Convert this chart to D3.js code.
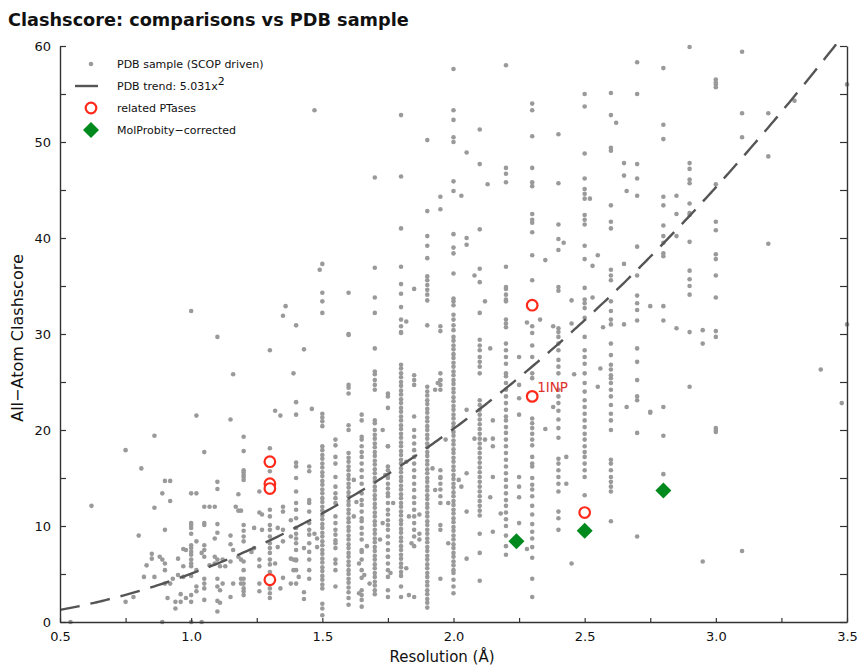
<!DOCTYPE html>
<html>
<head>
<meta charset="utf-8">
<script src="https://cdn.jsdelivr.net/npm/d3@7"></script>
<style>
  html, body { margin: 0; padding: 0; background: #fff; }
  svg { display: block; }
  text { font-family: "DejaVu Sans", Verdana, sans-serif; fill: #111; }
</style>
</head>
<body>
<div id="chart"></div>
<script>
const chartTitle = "Clashscore: comparisons vs PDB sample";
const xLabel = "Resolution (Å)";
const yLabel = "All\u2212Atom Clashscore";
const xTickValues = [0.5, 1.0, 1.5, 2.0, 2.5, 3.0, 3.5];
const yTickValues = [0, 10, 20, 30, 40, 50, 60];
const trendCoef = 5.031;

// PDB sample: clashscores grouped by reported resolution (Å)
const sampleColumns = [
  [1.3, [28.3,18.1,15.7,11.7,11.0,10.1,9.6,8.9,8.2,7.7,7.2,6.5,6.0,5.2,3.5,3.0,2.5]],
  [1.4, [30.9,22.9,21.6,16.6,16.2,15.0,13.6,12.4,11.7,10.8,9.8,9.2,8.7,8.2,7.5,6.5,5.4,4.0]],
  [1.45, [16.2,15.7,12.7,12.4,11.5,10.3,9.6,9.1,8.2,7.3,6.5,5.4,4.5]],
  [1.5, [37.3,34.3,33.4,32.2,21.7,21.3,20.9,20.4,18.3,17.9,17.4,17.0,16.5,16.1,15.6,15.2,14.7,14.3,13.8,13.4,12.9,12.5,12.0,11.6,11.1,10.7,10.2,9.8,9.3,8.9,8.4,8.0,7.5,7.1,6.6,6.2,5.7,5.3,4.8,4.4,3.9,3.5,1.9,1.4,0.7]],
  [1.55, [19.0,18.4,17.2,16.5,15.1,14.1,13.4,12.9,12.4,11.0,10.3,9.6,9.1,8.5,8.2,7.7,6.5,6.1,5.4,3.7]],
  [1.6, [34.3,30.0,29.9,24.7,24.4,23.8,20.5,20.0,17.6,17.1,16.7,16.2,15.8,15.3,14.9,14.4,14.0,13.5,13.1,12.6,12.2,11.7,11.3,10.8,10.4,9.9,9.5,9.0,8.6,8.1,7.7,7.2,6.8,6.3,5.9,5.4,5.0,4.5,4.1,3.6,3.1,2.5,1.8]],
  [1.65, [21.6,21.0,19.3,19.0,18.3,17.7,17.2,16.5,15.8,15.1,14.4,13.4,12.7,12.2,11.5,10.8,10.5,9.8,9.2,8.6,7.5,7.3,6.5,5.4,4.6,3.3,2.8,2.3,1.6]],
  [1.7, [46.3,36.9,33.8,32.2,28.5,26.1,25.8,25.2,24.7,24.2,21.0,20.7,20.0,19.5,19.1,18.6,18.2,17.7,17.3,16.8,16.4,15.9,15.5,15.0,14.6,14.1,13.7,13.2,12.8,12.3,11.9,11.4,11.0,10.5,10.1,9.6,9.2,8.7,8.3,7.8,7.4,6.9,6.5,6.0,5.6,5.1,4.7,4.2,3.8,3.3,2.9]],
  [1.75, [23.8,23.5,22.3,18.3,16.2,15.8,15.3,15.0,14.4,13.9,13.4,13.1,12.4,11.7,11.2,10.6,10.1,9.6,8.9,8.2,7.5,6.8,6.1,5.4,4.7,3.3,2.6]],
  [1.8, [52.8,46.4,41.0,37.0,35.2,34.2,32.8,31.5,30.8,30.2,30.1,26.8,26.4,25.9,25.5,25.0,24.6,24.1,23.7,23.2,22.8,22.3,21.9,21.4,21.0,20.5,20.1,19.6,19.2,18.7,18.3,17.8,17.4,16.9,16.5,16.0,15.6,15.1,14.7,14.2,13.8,13.3,12.9,12.4,12.0,11.5,11.1,10.6,10.2,9.7,9.3,8.8,8.4,7.9,7.5,7.0,6.6,6.1,5.7,5.2,4.8,3.7,2.6]],
  [1.85, [34.7,25.7,25.2,24.7,21.4,20.0,19.3,18.6,17.9,17.2,16.5,15.8,15.1,14.4,13.75,13.0,12.4,11.7,11.0,10.3,9.6,8.9,7.9,2.6]],
  [1.9, [50.2,42.8,40.2,39.2,37.9,36.0,35.6,35.1,34.6,34.1,33.5,30.9,24.5,24.0,23.6,23.1,22.7,22.2,21.8,21.3,20.9,20.4,20.0,19.5,19.1,18.6,18.2,17.7,17.3,16.8,16.4,15.9,15.5,15.0,14.6,14.1,13.7,13.2,12.8,12.3,11.9,11.4,11.0,10.5,10.1,9.6,9.2,8.7,8.3,7.8,7.4,6.9,6.5,6.0,5.6,5.1,4.7,4.2,3.8,3.3,2.9,2.4,2.0,1.5]],
  [1.95, [44.3,43.0,30.8,30.3,25.9,25.2,24.7,24.2,15.8,15.0,14.4,13.8,13.1,12.4,10.1,9.6]],
  [2.0, [57.6,53.3,52.3,50.5,50.0,45.9,44.9,40.4,39.0,38.4,36.3,33.7,33.4,33.0,32.0,31.5,30.9,30.4,29.7,29.3,28.8,28.4,27.9,27.5,27.0,26.6,26.1,25.7,25.2,24.8,24.3,23.9,23.4,23.0,22.5,22.1,21.6,21.2,20.7,20.3,19.8,19.4,18.9,18.5,18.0,17.6,17.1,16.7,16.2,15.8,15.3,14.9,14.4,14.0,13.5,13.1,12.6,12.2,11.7,11.3,10.8,10.4,9.9,9.5,9.0,8.6,8.1,7.7,7.2,6.8,6.3,5.9,5.4,5.1,4.4,3.7,3.0]],
  [2.05, [48.9,40.0,39.3,22.1,15.5,11.5,6.6]],
  [2.1, [51.3,47.7,40.9,36.8,35.4,32.2,29.4,28.8,28.3,27.6,27.1,26.6,25.9,23.1,22.6,22.1,21.6,21.1,20.6,20.1,19.6,19.1,18.6,18.1,17.6,17.1,16.6,16.1,15.6,15.1,14.6,14.1,13.6,13.1,12.6,12.1,11.6,11.1,9.2,7.2,4.3]],
  [2.2, [58.0,47.3,46.7,45.8,37.0,34.9,34.7,34.1,33.6,33.4,31.5,31.1,30.7,29.0,28.3,27.6,26.9,25.9,25.6,24.9,24.2,23.5,22.8,22.1,21.4,21.0,20.3,19.7,19.0,18.3,17.6,16.9,16.2,15.5,14.8,14.1,13.4,12.7,12.1,11.4,10.7,10.0,9.0,7.9,7.0]],
  [2.25, [27.6,24.7,23.3,21.6,15.1,14.1,13.0,10.3]],
  [2.3, [54.0,53.3,50.6,47.3,45.8,45.4,42.5,41.9,41.6,40.6,38.2,35.6,30.8,30.1,28.8,27.6,25.9,25.4,21.2,20.7,20.2,19.6,19.0,18.4,17.2,16.5,16.2,15.0,14.3,13.8,13.1,12.1,11.2,10.2,9.4,8.7,7.8,6.7,4.5,2.6]],
  [2.4, [50.8,45.7,41.4,39.9,38.75,34.9,34.5,30.6,30.2,29.7,29.0,28.3,27.3,26.6,25.9,24.2,23.5,22.8,22.0,21.1,20.2,19.2,17.0,16.5,15.8,15.1,14.4,13.6,11.5,10.8,9.6]],
  [2.5, [55.0,53.7,48.8,46.2,45.1,44.6,44.1,42.4,41.9,41.4,39.2,37.8,34.8,33.6,33.2,32.7,31.7,29.7,28.3,27.6,26.9,25.9,24.9,24.0,23.1,22.4,21.7,21.0,20.3,19.6,19.0,18.3,17.7,17.2,16.5,15.8,15.1,13.2]],
  [2.6, [55.1,52.8,49.4,49.1,43.4,41.7,41.0,36.7,36.1,35.6,33.4,32.4,31.5,31.0,29.0,27.8,26.8,26.3,25.7,25.4,24.9,24.2,23.5,22.6,21.7,21.0,20.0,16.9,16.5,15.8,15.1,14.6,14.1,13.6,10.5]],
  [2.7, [58.3,55.0,47.7,46.2,44.4,39.1,36.1,34.0,33.2,32.5,31.4,28.5,27.1,25.2,23.5,23.1,19.7,8.9]],
  [2.8, [57.7,51.8,50.3,44.3,43.4,41.3,40.2,39.5,38.4,38.1,32.9,31.4,22.4,19.4,15.4]],
  [2.9, [59.9,47.8,47.2,46.1,45.7,43.6,42.6,42.4,39.6,36.6,35.7,35.0,34.1,30.2,24.5]],
  [3.0, [56.5,56.2,56.0,55.7,45.6,41.7,40.8,38.3,37.8,36.1,33.8,30.3,29.7,20.2,20.0,19.8]],
  [3.1, [59.4,53.0,50.5,7.4]],
  [3.2, [53.0,48.5,39.4]]
];

// PDB sample entries at less common resolutions: [resolution, clashscore]
const sampleLoose = [
  [0.54,0],[0.62,12.1],[0.75,17.9],[0.75,2.1],[0.78,2.6],[0.80,9.0],[0.81,16.0],[0.82,4.7],[0.83,5.9],
  [0.85,7.1],[0.85,6.6],[0.86,19.4],[0.86,11.9],[0.86,4.7],[0.88,6.8],[0.89,13.4],[0.89,6.5],[0.89,0],
  [0.9,14.7],[0.9,9.6],[0.9,6.1],[0.9,5.4],[0.9,4.0],[0.91,2.5],[0.92,14.7],[0.92,12.6],[0.92,4.0],
  [0.93,4.5],[0.94,1.4],[0.94,2.1],[0.95,6.6],[0.95,4.9],[0.96,2.9],[0.96,2.1],[0.97,7.6],[0.97,5.8],
  [0.97,4.7],[0.98,7.5],[0.98,2.5],[1.0,32.4],[1.0,13.4],[1.0,10.3],[1.0,10.1],[1.0,9.8],[1.0,9.2],
  [1.0,8.0],[1.0,7.7],[1.0,7.3],[1.0,7.0],[1.0,6.5],[1.0,6.1],[1.0,5.8],[1.0,4.8],[1.0,2.8],[1.0,2.1],
  [1.0,0],[1.02,21.5],[1.02,13.4],[1.02,8.4],[1.02,5.4],[1.02,3.7],[1.02,3.2],[1.04,7.2],[1.04,0],
  [1.05,17.7],[1.05,12.0],[1.05,10.3],[1.05,10.1],[1.05,8.0],[1.05,7.5],[1.05,6.8],[1.05,4.5],[1.05,4.0],
  [1.05,3.5],[1.05,2.3],[1.07,12.0],[1.07,5.9],[1.09,12.0],[1.09,8.7],[1.09,6.1],[1.09,6.8],[1.1,29.7],
  [1.1,14.6],[1.1,13.85],[1.1,10.2],[1.1,9.3],[1.1,6.5],[1.1,4.5],[1.1,3.7],[1.1,2.2],[1.1,1.1],
  [1.11,5.8],[1.11,3.3],[1.11,2.0],[1.12,6.5],[1.12,4.0],[1.13,5.8],[1.15,21.1],[1.15,9.0],[1.15,8.1],
  [1.15,6.3],[1.15,2.6],[1.16,25.8],[1.16,7.5],[1.16,4.0],[1.17,12.0],[1.18,13.3],[1.18,11.6],[1.18,6.8],
  [1.19,11.6],[1.19,6.5],[1.19,4.5],[1.19,4.0],[1.2,19.3],[1.2,17.8],[1.2,15.8],[1.2,15.6],[1.2,15.3],
  [1.2,15.1],[1.2,14.8],[1.2,10.1],[1.2,9.5],[1.2,8.9],[1.2,8.4],[1.2,6.3],[1.2,5.4],[1.2,4.5],[1.2,4.0],
  [1.2,3.5],[1.2,3.2],[1.2,2.8],[1.23,7.3],[1.24,9.8],[1.24,7.7],[1.26,13.6],[1.26,11.4],[1.26,6.5],
  [1.26,5.8],[1.26,4.0],[1.26,3.2],[1.27,11.2],[1.27,9.6],[1.32,22.0],[1.32,6.1],[1.33,9.8],[1.33,7.8],
  [1.34,21.5],[1.34,3.5],[1.35,31.9],[1.35,12.0],[1.35,11.5],[1.35,9.6],[1.35,8.4],[1.35,4.6],
  [1.36,32.9],[1.38,10.6],[1.38,8.9],[1.38,6.6],[1.38,4.0],[1.39,25.9],[1.39,6.5],[1.39,5.4],[1.40,6.4],
  [1.41,4.7],[1.43,28.4],[1.43,7.7],[1.43,3.1],[1.43,2.4],[1.46,22.2],[1.47,53.3],[1.47,9.2],[1.48,8.7],
  [1.48,7.8],[1.49,36.7],[1.62,14.8],[1.62,11.0],[1.63,12.5],[1.64,6.1],[1.64,3.0],[1.66,4.9],[1.67,7.9],
  [1.68,4.0],[1.72,8.6],[1.73,20.0],[1.73,10.3],[1.74,15.3],[1.75,18.3],[1.75,6.8],[1.76,5.1],[1.77,12.4],
  [1.82,31.3],[1.82,16.7],[1.82,5.6],[1.83,11.0],[1.83,2.8],[1.84,8.2],[1.87,11.2],[1.87,9.2],[1.87,8.6],
  [1.92,16.0],[1.93,24.2],[1.93,13.75],[1.94,24.9],[1.95,25.2],[1.95,15.1],[1.95,4.5],[1.97,19.0],
  [1.98,12.4],[1.98,8.2],[2.02,14.8],[2.03,44.4],[2.03,14.1],[2.08,36.1],[2.08,19.1],[2.12,33.4],
  [2.12,19.0],[2.13,45.6],[2.14,28.5],[2.14,13.0],[2.15,21.0],[2.15,19.1],[2.15,18.3],[2.15,15.1],
  [2.15,9.4],[2.18,11.3],[2.28,31.2],[2.28,7.6],[2.33,31.5],[2.35,37.7],[2.35,20.1],[2.38,30.8],
  [2.38,22.4],[2.42,39.5],[2.43,17.2],[2.43,14.4],[2.45,33.5],[2.45,31.1],[2.45,6.1],[2.46,25.8],
  [2.52,44.1],[2.53,37.1],[2.53,33.8],[2.55,38.2],[2.55,24.5],[2.56,26.4],[2.57,30.7],[2.62,52.0],
  [2.65,47.8],[2.65,46.5],[2.65,37.3],[2.65,31.0],[2.66,44.9],[2.66,22.4],[2.75,32.9],[2.75,21.9],
  [2.75,21.8],[2.85,44.4],[2.85,42.5],[2.85,40.2],[2.85,30.6],[2.95,30.4],[2.95,29.0],[2.95,6.3],
  [3.3,54.3],[3.4,26.3],[3.48,22.8],[3.5,56.0],[3.5,31.0]
];

// Related PTases and the MolProbity-corrected structures
const ptaseRes = [1.3, 1.3, 1.3, 1.3, 2.3, 2.3, 2.5];
const ptaseScore = [16.7, 14.4, 13.9, 4.4, 33.0, 23.5, 11.4];
const ptaseNames = ["", "", "", "", "", "1INP", ""];
const correctedRes = [2.24, 2.5, 2.8];
const correctedScore = [8.4, 9.5, 13.7];

const legendLabels = ["PDB sample (SCOP driven)", "PDB trend: 5.031x", "related PTases", "MolProbity\u2212corrected"];

const W = 858, H = 666;
const margin = {left: 60, right: 11, top: 46, bottom: 44};
const pw = W - margin.left - margin.right;
const ph = H - margin.top - margin.bottom;

const colGray = "#9a9a9a", colTrend = "#555555", colRed = "#ff2a1a", colGreen = "#008a1e", colAxis = "#333333";

const svg = d3.select("#chart").append("svg").attr("width", W).attr("height", H);

const x = d3.scaleLinear().domain([0.5, 3.5]).range([0, pw]);
const y = d3.scaleLinear().domain([0, 60]).range([ph, 0]);

svg.append("text").attr("x", 8).attr("y", 26)
  .attr("font-size", 17.7).attr("font-weight", "bold").attr("fill", "#000")
  .text(chartTitle);

svg.append("defs").append("clipPath").attr("id", "plotclip")
  .append("rect").attr("x", 0).attr("y", -2).attr("width", pw).attr("height", ph + 4);

const g = svg.append("g").attr("transform", `translate(${margin.left},${margin.top})`);

// sample points
const samplePts = [];
sampleColumns.forEach(([r, vals]) => vals.forEach(v => samplePts.push([r, v])));
sampleLoose.forEach(p => samplePts.push(p));

g.append("g").selectAll("circle").data(samplePts).join("circle")
  .attr("cx", d => x(d[0])).attr("cy", d => y(d[1])).attr("r", 2.3)
  .attr("fill", colGray);

// quadratic trend
const trendX = d3.range(0.5, 3.5001, 0.01);
const trendLine = d3.line().x(d => x(d)).y(d => y(trendCoef * d * d));
g.append("path").datum(trendX).attr("d", trendLine)
  .attr("clip-path", "url(#plotclip)")
  .attr("fill", "none").attr("stroke", colTrend).attr("stroke-width", 2.4)
  .attr("stroke-dasharray", "20,11");

// related PTases
const ptase = ptaseRes.map((r, i) => ({r, s: ptaseScore[i], name: ptaseNames[i]}));
g.append("g").selectAll("circle").data(ptase).join("circle")
  .attr("cx", d => x(d.r)).attr("cy", d => y(d.s)).attr("r", 5.3)
  .attr("fill", "#fff").attr("stroke", colRed).attr("stroke-width", 2.2);
g.append("g").selectAll("text").data(ptase.filter(d => d.name)).join("text")
  .attr("x", d => x(d.r) + 5).attr("y", d => y(d.s) - 4)
  .attr("font-size", 13.5).style("fill", "#e0302a")
  .text(d => d.name);

// MolProbity-corrected
g.append("g").selectAll("path").data(correctedRes.map((r, i) => [r, correctedScore[i]])).join("path")
  .attr("transform", d => `translate(${x(d[0])},${y(d[1])}) rotate(45)`)
  .attr("d", d3.symbol().type(d3.symbolSquare).size(128))
  .attr("fill", colGreen);

// axes
const axisStyle = sel => {
  sel.select(".domain").attr("stroke", colAxis).attr("stroke-width", 1.4);
  sel.selectAll(".tick line").attr("stroke", colAxis).attr("stroke-width", 1.2);
  sel.selectAll(".tick text").attr("font-size", 13).attr("fill", "#222").style("font-family", "DejaVu Sans, sans-serif");
};

const xMinor = d3.range(0.5, 3.5001, 0.25);
const xAxis = g.append("g").attr("transform", `translate(0,${ph})`)
  .call(d3.axisBottom(x).tickValues(xMinor).tickSizeInner(-4).tickSizeOuter(0).tickPadding(10)
    .tickFormat(d => xTickValues.some(t => Math.abs(t - d) < 1e-6) ? d3.format(".1f")(d) : ""));
axisStyle(xAxis);

const yMinor = d3.range(0, 60.001, 5);
const yAxis = g.append("g")
  .call(d3.axisLeft(y).tickValues(yMinor).tickSizeInner(-6).tickSizeOuter(0).tickPadding(9)
    .tickFormat(d => yTickValues.includes(d) ? d : ""));
axisStyle(yAxis);

const yAxisR = g.append("g").attr("transform", `translate(${pw},0)`)
  .call(d3.axisRight(y).tickValues(yMinor).tickSizeInner(-7).tickSizeOuter(0).tickFormat(""));
axisStyle(yAxisR);

// axis titles
svg.append("text").attr("x", 442).attr("y", 662)
  .attr("text-anchor", "middle").attr("font-size", 15).text(xLabel);
svg.append("text").attr("transform", `translate(23,338) rotate(-90)`)
  .attr("text-anchor", "middle").attr("font-size", 16).text(yLabel);

// legend
const lg = svg.append("g");
const rows = [64, 86, 108, 130];
const lx = 91, tx = 117;
lg.append("circle").attr("cx", lx).attr("cy", rows[0]).attr("r", 2.3).attr("fill", colGray);
lg.append("line").attr("x1", 75).attr("x2", 98).attr("y1", rows[1]).attr("y2", rows[1])
  .attr("stroke", colTrend).attr("stroke-width", 2.4);
lg.append("circle").attr("cx", lx).attr("cy", rows[2]).attr("r", 5.3)
  .attr("fill", "#fff").attr("stroke", colRed).attr("stroke-width", 2.2);
lg.append("path").attr("transform", `translate(${lx},${rows[3]}) rotate(45)`)
  .attr("d", d3.symbol().type(d3.symbolSquare).size(128)).attr("fill", colGreen);
legendLabels.forEach((t, i) => {
  const tt = lg.append("text").attr("x", tx).attr("y", rows[i] + 4).attr("font-size", 11).text(t);
  if (i === 1) tt.append("tspan").attr("dy", -5).attr("font-size", 11).text("2");
});
</script>
</body>
</html>
